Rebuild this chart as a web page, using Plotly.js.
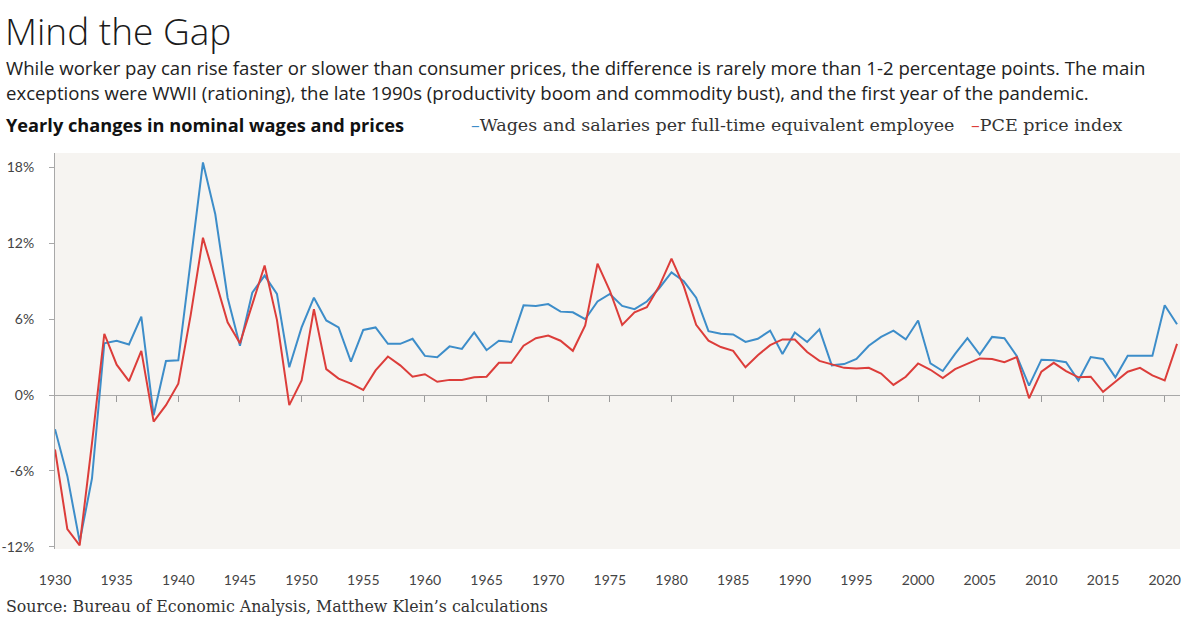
<!DOCTYPE html>
<html>
<head>
<meta charset="utf-8">
<script src="https://cdn.plot.ly/plotly-3.0.1.min.js"></script>
<style>
  html, body { margin: 0; padding: 0; background: #ffffff; }
  #chart { width: 1200px; height: 641px; }
</style>
</head>
<body>
<div id="chart"></div>
<script>
// ---- Data ----
const years = [
  1930,1931,1932,1933,1934,1935,1936,1937,1938,1939,
  1940,1941,1942,1943,1944,1945,1946,1947,1948,1949,
  1950,1951,1952,1953,1954,1955,1956,1957,1958,1959,
  1960,1961,1962,1963,1964,1965,1966,1967,1968,1969,
  1970,1971,1972,1973,1974,1975,1976,1977,1978,1979,
  1980,1981,1982,1983,1984,1985,1986,1987,1988,1989,
  1990,1991,1992,1993,1994,1995,1996,1997,1998,1999,
  2000,2001,2002,2003,2004,2005,2006,2007,2008,2009,
  2010,2011,2012,2013,2014,2015,2016,2017,2018,2019,
  2020,2021
];

// Wages and salaries per full-time equivalent employee, yearly % change
const wages = [
  -2.7,-6.4,-11.6,-6.6,4.1,4.3,4.0,6.2,-1.6,2.7,
  2.75,10.5,18.4,14.3,7.7,3.9,8.1,9.45,8.0,2.2,
  5.35,7.7,5.9,5.35,2.65,5.15,5.35,4.05,4.05,4.45,
  3.1,3.0,3.85,3.65,4.95,3.55,4.3,4.2,7.1,7.05,
  7.2,6.6,6.55,6.0,7.4,8.0,7.05,6.8,7.4,8.45,
  9.7,9.0,7.7,5.05,4.85,4.8,4.2,4.45,5.1,3.25,
  4.95,4.2,5.2,2.35,2.45,2.85,3.9,4.6,5.1,4.4,
  5.9,2.5,1.9,3.25,4.5,3.2,4.6,4.5,3.1,0.75,
  2.8,2.75,2.6,1.15,3.0,2.85,1.4,3.1,3.1,3.1,
  7.1,5.6
];

// PCE price index, yearly % change
const prices = [
  -4.3,-10.6,-11.9,-3.8,4.85,2.4,1.1,3.5,-2.1,-0.8,
  0.9,6.3,12.45,9.2,5.75,4.1,7.1,10.25,5.95,-0.8,
  1.15,6.8,2.05,1.3,0.9,0.4,1.95,3.05,2.35,1.45,
  1.65,1.05,1.2,1.2,1.4,1.45,2.55,2.55,3.9,4.5,
  4.7,4.3,3.5,5.5,10.4,8.25,5.55,6.55,6.95,8.6,
  10.8,8.6,5.55,4.3,3.8,3.5,2.2,3.15,3.95,4.4,
  4.4,3.4,2.7,2.4,2.15,2.1,2.15,1.7,0.8,1.45,
  2.5,2.0,1.35,2.05,2.5,2.9,2.85,2.6,3.0,-0.25,
  1.85,2.55,1.9,1.4,1.45,0.25,1.05,1.85,2.15,1.55,
  1.15,4.05
];

const yTickVals = [-12, -6, 0, 6, 12, 18];
const yTickText = ["-12%", "-6%", "0%", "6%", "12%", "18%"];
const xTickVals = [1930,1935,1940,1945,1950,1955,1960,1965,1970,1975,1980,1985,1990,1995,2000,2005,2010,2015,2020];
const xTickText = xTickVals.map(String);

const seriesNames = ["Wages and salaries per full-time equivalent employee", "PCE price index"];

// ---- Styling ----
const BLUE = "#3d8dc9";
const RED = "#dc3d3a";
const SANS = "'Open Sans', Lato, sans-serif";
const TICKSANS = "Lato, 'Open Sans', sans-serif";
const SERIF = "'DejaVu Serif', 'Liberation Serif', serif";

const W = 1200, H = 641;
const M = {l: 55, r: 20, t: 153, b: 92};
const plotW = W - M.l - M.r, plotH = H - M.t - M.b;
const yRange = [-12.18, 19.15];
const xRange = [1930, 1930 + plotW / 12.33];
function px(x) { return (x - M.l) / plotW; }
function py(y) { return (H - M.b - y) / plotH; }
const zeroPos = (0 - yRange[0]) / (yRange[1] - yRange[0]);

const traces = [
  {x: years, y: wages, type: "scatter", mode: "lines", name: seriesNames[0],
   line: {color: BLUE, width: 2}, hoverinfo: "x+y"},
  {x: years, y: prices, type: "scatter", mode: "lines", name: seriesNames[1],
   line: {color: RED, width: 2}, hoverinfo: "x+y"},
  // helper trace so the zero-line tick axis is drawn
  {x: [xRange[0]], y: [0], xaxis: "x2", yaxis: "y", type: "scatter", mode: "markers",
   marker: {opacity: 0}, showlegend: false, hoverinfo: "skip"}
];

const annotations = [
  {text: "Mind the Gap", x: px(3), y: py(31), xref: "paper", yref: "paper",
   xanchor: "left", yanchor: "middle", showarrow: false,
   font: {family: SANS, size: 37, color: "#1a1a1a", weight: 300}},
  {text: "While worker pay can rise faster or slower than consumer prices, the difference is rarely more than 1-2 percentage points. The main",
   x: px(4), y: py(68), xref: "paper", yref: "paper", xanchor: "left", yanchor: "middle",
   showarrow: false, font: {family: SANS, size: 18.6, color: "#222"}},
  {text: "exceptions were WWII (rationing), the late 1990s (productivity boom and commodity bust), and the first year of the pandemic.",
   x: px(4), y: py(93), xref: "paper", yref: "paper", xanchor: "left", yanchor: "middle",
   showarrow: false, font: {family: SANS, size: 18.6, color: "#222"}},
  {text: "<b>Yearly changes in nominal wages and prices</b>",
   x: px(4), y: py(125), xref: "paper", yref: "paper", xanchor: "left", yanchor: "middle",
   showarrow: false, font: {family: SANS, size: 18.2, color: "#111"}},
  {text: '<span style="color:' + BLUE + '">–</span>' + seriesNames[0],
   x: px(469), y: py(125), xref: "paper", yref: "paper", xanchor: "left", yanchor: "middle",
   showarrow: false, font: {family: SERIF, size: 17.5, color: "#333"}},
  {text: '<span style="color:' + RED + '">–</span>' + seriesNames[1],
   x: px(969), y: py(125), xref: "paper", yref: "paper", xanchor: "left", yanchor: "middle",
   showarrow: false, font: {family: SERIF, size: 17.5, color: "#333"}},
  {text: "Source: Bureau of Economic Analysis, Matthew Klein’s calculations",
   x: px(4), y: py(606), xref: "paper", yref: "paper", xanchor: "left", yanchor: "middle",
   showarrow: false, font: {family: SERIF, size: 15.8, color: "#333"}}
];

const layout = {
  width: W, height: H,
  margin: M,
  paper_bgcolor: "#ffffff",
  plot_bgcolor: "#f6f4f1",
  showlegend: false,
  xaxis: {
    range: xRange, tickmode: "array", tickvals: xTickVals, ticktext: xTickText,
    showgrid: false, zeroline: false, showline: false,
    ticks: "outside", ticklen: 18, tickcolor: "rgba(0,0,0,0)",
    tickfont: {family: TICKSANS, size: 14, color: "#444"}
  },
  xaxis2: {
    range: xRange, overlaying: "x", anchor: "free", position: zeroPos,
    tickmode: "array", tickvals: xTickVals.slice(1),
    showticklabels: false, showgrid: false, zeroline: false, showline: false,
    ticks: "outside", ticklen: 6, tickwidth: 1, tickcolor: "#9a9a9a"
  },
  yaxis: {
    range: yRange, tickmode: "array", tickvals: yTickVals, ticktext: yTickText,
    showgrid: false, zeroline: true, zerolinecolor: "#a8a8a8", zerolinewidth: 1,
    showline: true, linecolor: "#a8a8a8", linewidth: 1,
    ticks: "outside", ticklen: 5, tickcolor: "#a8a8a8", ticklabelstandoff: 12,
    tickfont: {family: TICKSANS, size: 14, color: "#444"}
  },
  annotations: annotations
};

Plotly.newPlot("chart", traces, layout, {displayModeBar: false, staticPlot: true});
</script>
</body>
</html>
